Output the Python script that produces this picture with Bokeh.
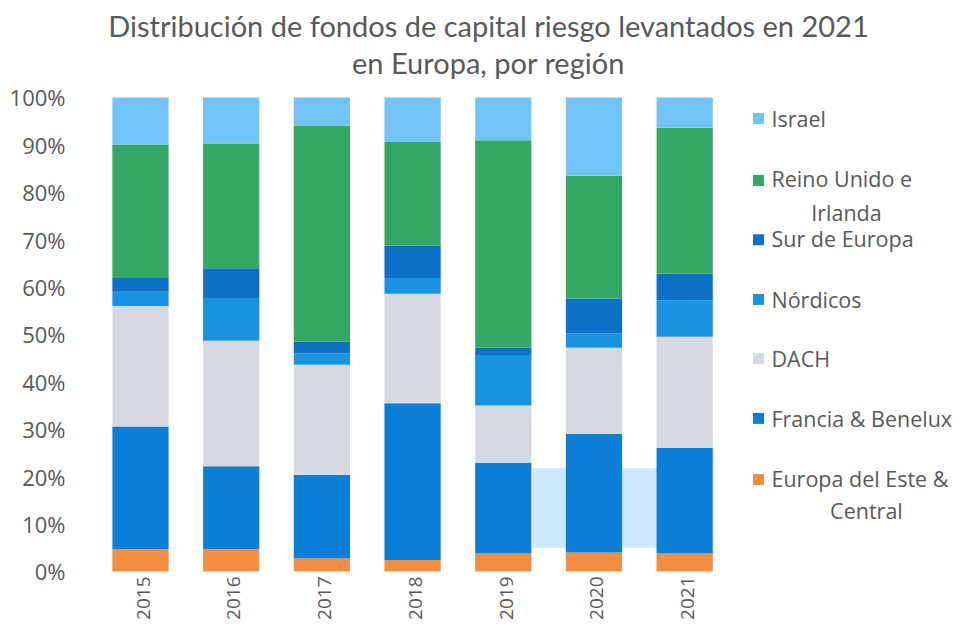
import math
from bokeh.plotting import figure
from bokeh.models import Range1d, FixedTicker, PrintfTickFormatter, ColumnDataSource
from bokeh.core.properties import value
from bokeh.embed import file_html
from bokeh.resources import INLINE

# ---------------- data ----------------
years = ["2015", "2016", "2017", "2018", "2019", "2020", "2021"]
regions = ["Europa del Este & Central", "Francia & Benelux", "DACH", "Nórdicos",
           "Sur de Europa", "Reino Unido e Irlanda", "Israel"]
este = [4.7, 4.7, 2.8, 2.4, 3.8, 4.0, 3.8]
francia = [25.9, 17.5, 17.6, 33.1, 19.1, 25.0, 22.3]
dach = [25.4, 26.5, 23.2, 23.1, 12.1, 18.2, 23.4]
nordicos = [3.0, 9.0, 2.4, 3.3, 10.7, 3.0, 7.7]
sur = [2.9, 6.3, 2.5, 6.9, 1.5, 7.4, 5.6]
uk = [28.2, 26.3, 45.6, 21.8, 43.8, 25.9, 30.8]
israel = [9.9, 9.7, 5.9, 9.4, 9.0, 16.5, 6.4]
y_ticks = [0, 10, 20, 30, 40, 50, 60, 70, 80, 90, 100]
title_lines = ["Distribución de fondos de capital riesgo levantados en 2021",
               "en Europa, por región"]
# light-blue patch visible in the source picture (percent range)
patch_y = [5.0, 21.8]

colors = ["#f28e42", "#0b7fd7", "#d6d9e1", "#1992e1", "#0d6fc6", "#33a865", "#72c4f8"]
grey = "#595959"

xs = list(range(1, len(years) + 1))
cols = ["este", "francia", "dach", "nordicos", "sur", "uk", "israel"]
source = ColumnDataSource(dict(x=xs, este=este, francia=francia, dach=dach,
                               nordicos=nordicos, sur=sur, uk=uk, israel=israel))

p = figure(width=956, height=621, output_backend="svg", toolbar_location=None,
           title=None, x_range=Range1d(0.4267, 9.997),
           y_range=Range1d(-10.549, 120.464),
           min_border_left=88, min_border_right=0, min_border_top=0, min_border_bottom=0)
p.outline_line_color = None
p.xgrid.visible = False
p.ygrid.visible = False
p.xaxis.visible = False
p.background_fill_color = "white"

ya = p.yaxis[0]
ya.ticker = FixedTicker(ticks=y_ticks)
ya.formatter = PrintfTickFormatter(format="%d%%")
ya.axis_line_color = None
ya.major_tick_line_color = None
ya.minor_tick_line_color = None
ya.major_label_standoff = 17
ya.major_label_text_font = "Open Sans"
ya.major_label_text_font_size = "22px"
ya.major_label_text_color = grey

# patch
p.quad(left=[5.322], right=[6.70], bottom=[patch_y[0]], top=[patch_y[1]],
       fill_color="#cfe8fb", line_color=None)

p.vbar_stack(cols, x="x", width=0.62, color=colors, source=source, line_color=None)

# year labels (category axis)
p.text(x=[x + 0.03 for x in xs], y=[-1.05] * len(xs), text=years, angle=math.pi / 2,
       text_align="right", text_baseline="middle", text_font=value("Open Sans"),
       text_font_size="19px", text_color=grey)

# legend (top = Israel)
sq_y = [95.57, 82.5, 70.0, 57.4, 44.9, 32.3, 19.4]
txt_y = [95.57, 82.9, 70.25, 57.4, 44.9, 32.3, 19.6]
leg_first = ["Israel", "Reino Unido e", "Sur de Europa", "Nórdicos", "DACH",
             "Francia & Benelux", "Europa del Este &"]
leg_colors = colors[::-1]
p.rect(x=[7.814] * 7, y=sq_y, width=11, height=11, width_units="screen",
       height_units="screen", fill_color=leg_colors, line_color=None)
p.text(x=[7.957] * 7, y=txt_y, text=leg_first, text_align="left", text_baseline="middle",
       text_font=value("Open Sans"), text_font_size="21.5px", text_color=grey)
p.text(x=[8.784, 9.004], y=[75.7, 12.9], text=["Irlanda", "Central"], text_align="center",
       text_baseline="middle", text_font=value("Open Sans"), text_font_size="21.5px",
       text_color=grey)

# title
p.text(x=[4.837, 4.837], y=[115.2, 107.3], text=title_lines, text_align="center",
       text_baseline="middle", text_font=value("Lato"), text_font_size="29px",
       text_color=grey)

open("out.html", "w").write(file_html(p, INLINE))
